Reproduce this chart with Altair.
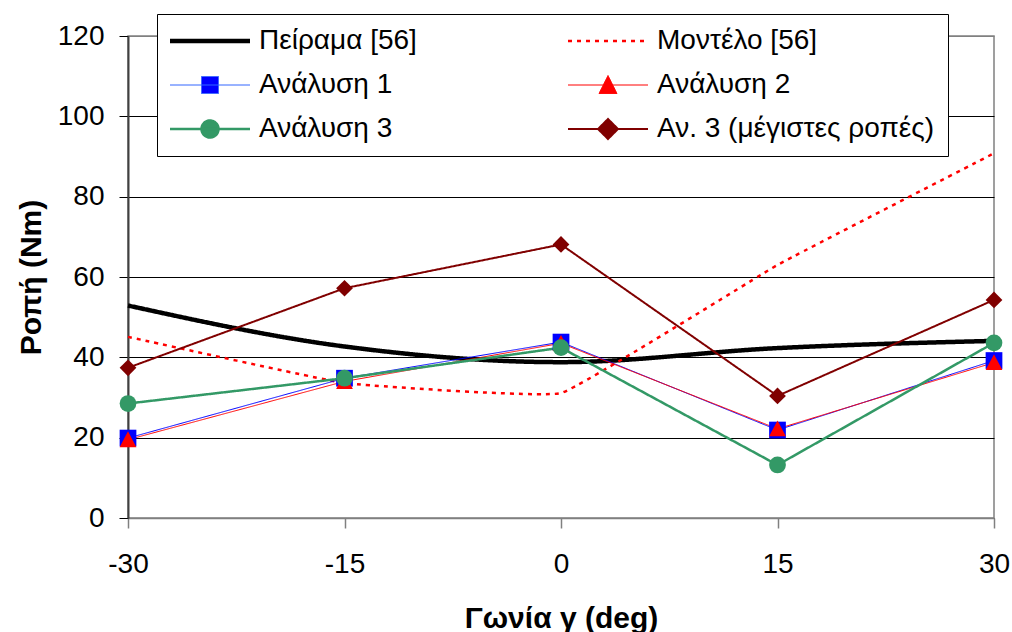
import altair as alt
import pandas as pd

# ---- data ----
angles = [-30, -15, 0, 15, 30]
series_names = ["Πείραμα [56]", "Μοντέλο [56]", "Ανάλυση 1", "Ανάλυση 2",
                "Ανάλυση 3", "Αν. 3 (μέγιστες ροπές)"]
experiment = [52.9, 42.7, 38.8, 42.3, 44.1]
model = [45.1, 33.6, 31.1, 63.0, 90.8]
analysis1 = [19.9, 34.8, 43.8, 21.9, 39.2]
analysis2 = [19.5, 34.0, 43.5, 22.2, 38.7]
analysis3 = [28.5, 34.8, 42.4, 13.2, 43.6]
analysis3_max = [37.4, 57.2, 68.1, 30.4, 54.3]
x_ticks = [-30, -15, 0, 15, 30]
y_ticks = [0, 20, 40, 60, 80, 100, 120]

values = [experiment, model, analysis1, analysis2, analysis3, analysis3_max]
rows = []
for name, vals in zip(series_names, values):
    for a, v in zip(angles, vals):
        rows.append({"angle": a, "torque": v, "series": name})
df = pd.DataFrame(rows)

marker_series = series_names[2:]

# ---- styles ----
colors = ["#000000", "#FF0000", "#0000FF", "#FF0000", "#339966", "#800000"]
widths = [4.5, 2.5, 1, 1, 2.5, 2]
dashes = [[1, 0], [4, 5], [1, 0], [1, 0], [1, 0], [1, 0]]
marker_shapes = ["square", "M0,-1L1,0.9L-1,0.9Z", "circle", "diamond"]
legend_fills = ["transparent", "transparent", "#0000FF", "#FF0000", "#339966", "#800000"]
legend_strokes = ["#000000", "#FF0000", "#3366FF", "#FF0000", "#339966", "#800000"]
LINE = "M-1.4,0H6.6"
legend_paths = [
    LINE,
    LINE,
    LINE + "M1.75,-0.85H3.45V0.85H1.75Z",
    LINE + "M2.6,-0.95L3.5,0.85L1.7,0.85Z",
    LINE + "M1.75,0A0.85,0.85 0 1,1 3.45,0A0.85,0.85 0 1,1 1.75,0Z",
    LINE + "M2.6,-1L3.6,0L2.6,1L1.6,0Z",
]
# legend fills its grid column by column: reorder so that it reads row by row
legend_order = [0, 2, 4, 1, 3, 5]


def reorder(lst):
    return [lst[i] for i in legend_order]


FONT = "Liberation Sans"

x_enc = alt.X("angle:Q", scale=alt.Scale(domain=[-30, 30], nice=False),
              axis=alt.Axis(values=x_ticks, title="Γωνία γ (deg)", grid=False,
                            labelExpr="datum.value + ''",
                            domainColor="#808080", domainWidth=1.5,
                            tickColor="#808080", tickSize=10, tickWidth=1.5,
                            labelFont=FONT, labelFontSize=28, labelColor="black",
                            labelPadding=22, labelFlush=False,
                            titleFont=FONT, titleFontSize=30, titleFontWeight="bold",
                            titleColor="black", titlePadding=25))
y_enc = alt.Y("torque:Q", scale=alt.Scale(domain=[0, 120], nice=False),
              axis=alt.Axis(values=y_ticks, title="Ροπή (Nm)", grid=True,
                            gridColor={"condition": {"test": "datum.value == 120", "value": "#808080"},
                                       "value": "#000000"},
                            gridWidth=1,
                            domainColor="#404040", domainWidth=2,
                            tickColor="#000000", tickSize=9, tickWidth=1,
                            labelFont=FONT, labelFontSize=28, labelColor="black",
                            labelPadding=15, labelFlush=False,
                            titleFont=FONT, titleFontSize=30, titleFontWeight="bold",
                            titleColor="black", titlePadding=11))

color_scale = alt.Scale(domain=series_names, range=colors)
width_scale = alt.Scale(type="ordinal", domain=series_names, range=widths)
dash_scale = alt.Scale(domain=series_names, range=dashes)

base = alt.Chart(df)


def line_layer(names, interp, tension=None):
    kw = {"interpolate": interp}
    if tension is not None:
        kw["tension"] = tension
    return base.transform_filter(
        alt.FieldOneOfPredicate(field="series", oneOf=names)
    ).mark_line(**kw).encode(
        x=x_enc, y=y_enc,
        color=alt.Color("series:N", scale=color_scale, legend=None),
        strokeWidth=alt.StrokeWidth("series:N", scale=width_scale, legend=None),
        strokeDash=alt.StrokeDash("series:N", scale=dash_scale, legend=None),
    )


experiment_line = line_layer([series_names[0]], "monotone")
model_line = line_layer([series_names[1]], "cardinal", 0.75)
straight_lines = line_layer(marker_series, "linear")

points = base.transform_filter(
    alt.FieldOneOfPredicate(field="series", oneOf=marker_series)
).mark_point(filled=True, opacity=1, size=280).encode(
    x=x_enc, y=y_enc,
    color=alt.Color("series:N", scale=color_scale, legend=None),
    shape=alt.Shape("series:N", scale=alt.Scale(domain=marker_series, range=marker_shapes),
                    legend=None),
)

legend = alt.Legend(title=None, orient="none", legendX=29, legendY=-22, columns=2,
                    labelFont=FONT, labelFontSize=28, labelColor="black",
                    labelLimit=600, labelOffset=61, symbolSize=400,
                    padding=13, rowPadding=16, columnPadding=146,
                    strokeColor="black", fillColor="white", symbolOffset=0)

legend_domain = reorder(series_names)
legend_layer = base.transform_filter("false").mark_point(opacity=1, size=400).encode(
    x=x_enc, y=y_enc,
    fill=alt.Fill("series:N", scale=alt.Scale(domain=legend_domain, range=reorder(legend_fills)), legend=legend),
    stroke=alt.Stroke("series:N", scale=alt.Scale(domain=legend_domain, range=reorder(legend_strokes)), legend=legend),
    strokeWidth=alt.StrokeWidth("series:N", scale=alt.Scale(type="ordinal", domain=legend_domain, range=reorder(widths)), legend=legend),
    strokeDash=alt.StrokeDash("series:N", scale=alt.Scale(domain=legend_domain, range=reorder(dashes)), legend=legend),
    shape=alt.Shape("series:N", scale=alt.Scale(domain=legend_domain, range=reorder(legend_paths)), legend=legend),
)

chart = alt.layer(experiment_line, model_line, straight_lines, points, legend_layer).resolve_scale(
    shape="independent", strokeWidth="independent", strokeDash="independent",
    fill="independent", stroke="independent"
).properties(
    width=866, height=482,
    autosize=alt.AutoSizeParams(type="none"),
    padding={"left": 128, "top": 36, "right": 18, "bottom": 114},
    background="white",
).configure_view(stroke="#808080", strokeWidth=1.5)

chart.save("out.html", embed_options={"renderer": "svg", "actions": False})
